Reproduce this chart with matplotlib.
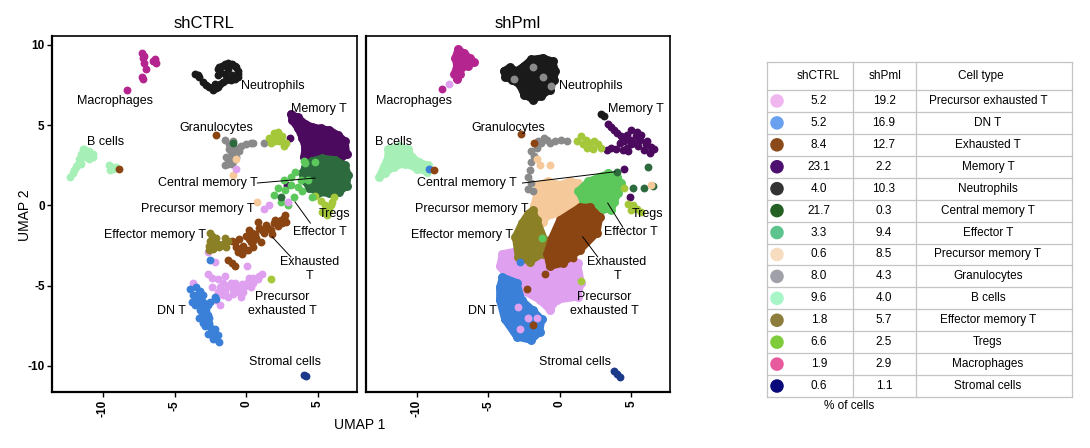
import matplotlib
matplotlib.use("Agg")
import matplotlib.pyplot as plt

plt.rcParams['font.family'] = ['Liberation Sans', 'DejaVu Sans']

# ---- cell types (order used for drawing and for the table) ----
cell_types = ['Precursor exhausted T', 'DN T', 'Exhausted T', 'Memory T', 'Neutrophils',
              'Central memory T', 'Effector T', 'Precursor memory T', 'Granulocytes',
              'B cells', 'Effector memory T', 'Tregs', 'Macrophages', 'Stromal cells']
pct_ctrl = ['5.2', '5.2', '8.4', '23.1', '4.0', '21.7', '3.3', '0.6', '8.0', '9.6', '1.8', '6.6', '1.9', '0.6']
pct_pml = ['19.2', '16.9', '12.7', '2.2', '10.3', '0.3', '9.4', '8.5', '4.3', '4.0', '5.7', '2.5', '2.9', '1.1']

# scatter colours and the (slightly different) table swatch colours
dot_colors = {'Precursor exhausted T': '#e0a0f0', 'DN T': '#3a7fd8', 'Exhausted T': '#8b4513',
              'Memory T': '#4b0a5e', 'Neutrophils': '#1a1a1a', 'Central memory T': '#2d6a3e',
              'Effector T': '#5cc85c', 'Precursor memory T': '#f5c99a', 'Granulocytes': '#8a8a8a',
              'B cells': '#a6f0b8', 'Effector memory T': '#8b8026', 'Tregs': '#a5c83a',
              'Macrophages': '#b5258f', 'Stromal cells': '#1b3a8a'}
table_colors = ['#f0b6f0', '#6aa0f0', '#8b4a1a', '#4d0f70', '#333333', '#245f24', '#5cc48c',
                '#f7dcc0', '#a0a0a8', '#a8f5c8', '#8c7d3c', '#7ecc3c', '#e85a9e', '#0a0a7a']

# ---- shCTRL: single cells (UMAP coordinates) ----
ctrl_macro = [(-7.3, 9.5), (-7.2, 9.2), (-7.1, 8.9), (-6.5, 9.0), (-6.3, 8.9), (-7.0, 8.5),
              (-7.3, 8.0), (-7.2, 7.9), (-8.3, 7.2), (-7.1, 9.3), (-6.4, 9.1)]
ctrl_bcell = [(-11.3, 3.5), (-11.0, 3.4), (-10.8, 3.1), (-11.5, 3.2), (-11.2, 3.0), (-11.6, 2.8),
              (-11.8, 2.5), (-12.0, 2.2), (-12.3, 1.8), (-10.7, 3.0), (-11.0, 2.9), (-11.4, 3.5),
              (-9.6, 2.5), (-9.3, 2.3), (-9.1, 2.4), (-9.5, 2.2), (-11.1, 3.3), (-10.9, 3.2),
              (-11.3, 3.1), (-11.7, 2.9), (-11.5, 2.6), (-11.9, 2.4), (-12.1, 2.0), (-10.7, 3.2),
              (-9.4, 2.4)]
ctrl_neutro = [(-3.6, 8.2), (-3.3, 8.0), (-3.0, 7.7), (-2.6, 7.4), (-2.3, 7.2), (-2.0, 7.4),
               (-1.8, 7.6), (-1.4, 7.8), (-1.1, 7.8), (-0.6, 8.0), (-0.6, 8.4), (-0.8, 8.7),
               (-1.3, 8.9), (-1.7, 8.7), (-2.0, 8.5), (-2.0, 8.1), (-1.5, 8.2), (-1.0, 8.1),
               (-3.4, 8.1), (-2.8, 7.5), (-2.4, 7.3), (-2.1, 7.3), (-1.6, 7.7), (-1.2, 7.9),
               (-0.8, 7.9), (-0.6, 8.2), (-0.7, 8.6), (-1.0, 8.8), (-1.5, 8.8), (-1.9, 8.6),
               (-1.8, 8.3), (-1.3, 8.5), (-2.2, 7.6)]
ctrl_memT_hull = [(3.1, 5.7), (3.6, 5.5), (4.1, 5.1), (4.6, 4.9), (5.2, 4.8), (5.8, 4.7), (6.4, 4.4),
                  (6.9, 4.0), (7.0, 3.2), (6.5, 2.8), (5.5, 2.8), (4.5, 2.9), (4.0, 3.0), (4.1, 3.6),
                  (3.9, 4.2), (3.6, 4.8), (3.2, 5.3)]
ctrl_memT = [(3.07, 4.2), (2.86, 1.28)]
ctrl_cmT_hull = [(4.1, 2.4), (4.6, 2.8), (5.3, 2.95), (6.2, 2.85), (6.9, 2.5), (7.1, 1.9), (7.0, 1.2),
                 (6.5, 0.85), (5.8, 0.75), (5.0, 0.8), (4.4, 1.1), (4.0, 1.6), (3.9, 2.0)]
ctrl_cmT = [(-0.9, 3.9), (2.4, 0.5)]
ctrl_effT = [(4.1, 2.65), (3.4, 2.1), (3.1, 1.8), (3.8, 1.6), (1.9, 0.65), (2.4, 0.2), (2.9, 0.03),
             (3.3, 0.5), (2.7, 0.97), (4.0, 2.8), (4.8, 2.7), (3.6, 1.15), (4.6, 0.5), (3.1, 1.3),
             (2.2, 1.1), (4.3, 1.6), (3.9, 0.9), (2.6, 1.6)]
ctrl_treg = [(1.6, 4.2), (1.9, 4.5), (2.2, 4.6), (2.5, 4.3), (2.8, 3.9), (2.0, 4.0), (2.3, 4.0),
             (2.6, 3.7), (1.7, 3.9), (4.8, 0.6), (5.2, 0.3), (5.5, 0.0), (5.8, -0.3), (6.0, 0.2),
             (5.6, -0.6), (5.3, -0.4), (6.1, 0.5), (1.7, -4.6), (2.1, 4.3), (2.4, 4.1), (5.5, -0.3),
             (5.9, 0.0)]
ctrl_gran = [(-1.5, 4.1), (-1.2, 3.8), (-0.8, 3.6), (-0.4, 3.7), (0.0, 3.8), (0.5, 3.9), (1.2, 3.9),
             (-1.0, 3.2), (-1.3, 2.9), (-1.5, 2.5), (-1.0, 2.6), (-0.7, 3.0), (-0.5, 3.4), (-1.2, 3.5),
             (-1.1, 3.4), (-1.4, 3.0), (-0.9, 2.8), (-1.3, 2.6), (-0.9, 4.0), (0.3, 3.9)]
ctrl_pmem = [(-0.9, 1.9), (0.75, 0.2), (-0.7, 2.9)]
ctrl_pexh = [(-2.65, -4.3), (-2.0, -4.6), (-2.4, -5.1), (-1.8, -5.1), (-1.5, -5.3), (-1.1, -4.8),
             (-0.6, -5.1), (-0.4, -5.7), (0.07, -4.8), (0.5, -4.5), (0.8, -4.6), (1.1, -4.3),
             (0.3, -5.1), (-0.9, -5.5), (-1.8, -6.2), (-1.25, -5.7), (-2.2, -5.9), (-0.2, -5.4),
             (-2.2, -3.5), (0.07, -3.8), (-2.65, -2.9), (-3.7, -4.8), (1.2, -0.2), (1.6, 0.0),
             (-0.7, 2.3), (2.9, 0.2), (-1.5, -4.4), (-0.3, -4.9), (-2.4, -4.5), (-1.6, -4.8),
             (-1.3, -5.0), (-0.8, -4.8), (-0.9, -5.2), (-0.1, -5.0), (0.5, -4.8), (0.9, -4.4),
             (-1.6, -5.6), (-2.0, -5.4), (-0.5, -5.4), (0.2, -4.5)]
ctrl_dnt = [(-3.9, -5.2), (-3.5, -5.1), (-3.2, -5.3), (-3.7, -5.6), (-3.3, -5.8), (-3.0, -6.0),
            (-3.6, -6.2), (-3.2, -6.5), (-2.8, -6.5), (-3.3, -7.0), (-2.9, -7.1), (-2.6, -7.0),
            (-2.9, -7.5), (-2.5, -7.6), (-2.3, -7.9), (-2.0, -8.1), (-1.9, -8.5), (-2.3, -8.3),
            (-2.7, -8.0), (-2.5, -6.0), (-2.2, -5.7), (-3.8, -6.0), (-2.5, -3.4), (-2.1, -5.8),
            (-3.4, -5.5), (-3.0, -5.6), (-3.4, -6.1), (-3.0, -6.3), (-2.7, -6.8), (-3.1, -6.8),
            (-3.0, -7.3), (-2.6, -7.3), (-2.2, -7.7), (-2.5, -8.0), (-2.1, -8.3), (-3.6, -5.9),
            (-2.7, -6.2)]
ctrl_exh = [(-1.0, -2.2), (-0.7, -2.6), (-0.5, -2.1), (-0.2, -2.5), (0.0, -1.9), (0.3, -2.3),
            (0.4, -1.7), (0.7, -2.0), (0.9, -1.4), (1.2, -1.7), (1.4, -1.2), (1.7, -1.5),
            (1.9, -1.1), (2.2, -1.3), (2.4, -0.9), (2.7, -0.6), (2.8, -1.0), (0.1, -2.8),
            (0.5, -2.6), (-0.3, -3.0), (0.8, -1.0), (1.0, -2.3), (-1.3, -3.4), (-1.0, -3.6),
            (-0.8, -3.8), (-2.1, 4.4), (-8.86, 2.27), (-0.8, -2.3), (-0.4, -2.8), (0.2, -2.1),
            (0.6, -1.8), (1.1, -1.5), (1.5, -1.4), (2.0, -0.9), (2.5, -1.1), (0.5, -2.2),
            (-0.6, -2.9), (1.8, -1.8), (2.6, -0.8), (0.2, -1.5), (-0.1, -2.8)]
ctrl_emem = [(-2.4, -1.9), (-2.2, -2.3), (-2.6, -2.5), (-2.3, -2.7), (-1.9, -2.6), (-1.6, -2.4),
             (-1.3, -2.2), (-1.4, -2.6), (-2.1, -2.0), (-2.5, -1.7), (-2.0, -2.4), (-2.5, -2.2),
             (-1.5, -2.0), (-2.6, -2.8)]
ctrl_strom = [(4.0, -10.55), (4.15, -10.65)]

# ---- shPml: dense regions (outlines) and single cells ----
pml_macro_hull = [(-7.1, 9.75), (-6.7, 9.5), (-6.3, 9.2), (-6.0, 8.95), (-6.4, 8.7), (-6.8, 8.6),
                  (-7.0, 8.2), (-7.2, 7.9), (-7.35, 8.2), (-7.2, 8.7), (-7.3, 9.2)]
pml_macro = [(-8.25, 7.25)]
pml_neutro_hull = [(-3.9, 8.4), (-3.5, 8.6), (-3.0, 8.4), (-2.5, 8.7), (-2.0, 9.1), (-1.2, 9.2),
                   (-0.5, 9.0), (-0.3, 8.4), (-0.4, 7.8), (-0.7, 7.2), (-1.3, 6.8), (-1.9, 6.6),
                   (-2.5, 6.9), (-2.8, 7.5), (-3.3, 7.8), (-3.8, 8.0)]
pml_neutro = [(2.9, 5.7), (3.1, 5.55)]
pml_gran = [(-3.2, 7.9), (-1.9, 8.6), (-1.2, 8.0), (-0.6, 7.45), (0.5, 4.0), (0.1, 4.1), (-0.3, 4.0),
            (-0.7, 3.9), (-1.1, 4.2), (-1.5, 4.0), (-1.6, 3.6), (-1.8, 3.1), (-2.0, 2.7), (-2.1, 2.2),
            (-2.2, 1.8), (-2.0, 1.4), (-2.2, 1.0), (-1.9, 0.9), (-1.3, 3.9), (-0.9, 4.05), (-2.0, 3.4)]
pml_memT = [(3.35, 5.1), (4.0, 4.5), (4.7, 4.4), (5.4, 4.6), (5.2, 3.9), (6.1, 4.0), (6.4, 3.65),
            (5.9, 3.45), (4.7, 3.6), (4.2, 3.9), (3.3, 3.45), (5.7, 4.4), (4.4, 3.45), (4.9, 4.1),
            (3.6, 4.9), (5.0, 4.7), (5.5, 3.7), (6.3, 3.3), (4.5, 2.3), (4.9, 0.5), (3.9, 3.5),
            (3.8, 4.7), (4.3, 4.3), (4.5, 4.0), (5.0, 3.8), (5.6, 4.1), (6.0, 3.8), (4.8, 3.4),
            (5.3, 4.3), (3.6, 3.6), (6.6, 3.5)]
pml_cmT = [(4.0, 2.1), (6.15, 2.4), (5.1, 1.1), (5.9, 1.1), (6.5, 1.2)]
pml_treg = [(1.2, 4.0), (1.5, 4.3), (1.8, 4.1), (2.1, 3.9), (2.4, 4.0), (2.7, 3.8), (1.6, 3.8),
            (1.9, 3.6), (2.3, 3.5), (2.9, 3.6), (4.8, 0.1), (5.1, 0.0), (5.4, -0.2), (5.7, -0.4),
            (5.0, -0.3), (4.5, 1.1), (1.5, -4.7)]
pml_pmem_hull = [(-1.5, 1.3), (-0.8, 1.5), (0.0, 1.3), (0.7, 1.5), (1.3, 1.4), (1.6, 1.0), (1.3, 0.3),
                 (0.8, -0.3), (0.2, -0.6), (-0.6, -0.5), (-1.2, -1.0), (-1.6, -0.6), (-1.8, 0.0),
                 (-1.6, 0.7)]
pml_pmem = [(6.4, 1.3), (-1.4, 2.5), (-0.7, 2.5), (-1.6, 2.9)]
pml_effT_hull = [(1.3, 0.9), (2.0, 1.5), (2.8, 1.8), (3.4, 2.0), (4.0, 1.8), (4.3, 1.4), (4.1, 0.8),
                 (3.8, 0.2), (3.6, -0.3), (3.0, -0.2), (2.3, 0.0), (1.6, 0.3)]
pml_effT = [(-1.25, -2.05)]
pml_emem_hull = [(-1.9, -0.3), (-1.6, -0.9), (-1.05, -2.15), (-1.2, -3.0), (-2.1, -3.5), (-2.9, -3.2),
                 (-3.1, -1.95), (-2.65, -1.1), (-2.2, -0.5)]
pml_exh_hull = [(2.1, -0.1), (2.8, -0.7), (2.6, -1.7), (1.4, -2.8), (0.2, -3.6), (-0.7, -3.8),
                (-0.9, -3.0), (-0.55, -2.0), (0.0, -0.9), (0.7, -0.5), (1.4, -0.1)]
pml_exh = [(-2.7, 4.45), (-1.8, 3.9), (-8.8, 2.2), (0.9, -3.3), (-1.05, -4.3), (-2.3, -5.2), (-1.9, -7.45)]
pml_pexh_hull = [(-4.0, -3.0), (-2.8, -2.8), (-0.9, -3.2), (-0.2, -3.6), (0.7, -3.2), (1.25, -3.6),
                 (1.5, -4.8), (1.25, -5.7), (-0.2, -5.9), (-0.7, -6.5), (-1.4, -5.9), (-2.6, -5.3),
                 (-3.5, -4.6), (-4.2, -3.8)]
pml_pexh = [(-7.7, 7.6)]
pml_dnt_hull = [(-4.0, -4.45), (-3.0, -4.8), (-2.65, -5.9), (-1.9, -6.5), (-1.25, -7.1), (-1.4, -7.9),
                (-2.0, -8.4), (-3.0, -8.2), (-3.85, -7.1), (-4.2, -5.9), (-4.2, -5.1)]
pml_dnt = [(-2.8, -3.5), (-9.1, 2.3)]
pml_pexh_top = [(-2.9, -6.3), (-2.2, -7.0), (-2.8, -7.7), (-1.6, -7.0)]
pml_bcell_hull = [(-12.0, 3.5), (-11.2, 3.7), (-10.6, 3.5), (-10.3, 3.0), (-9.8, 2.7), (-9.2, 2.5),
                  (-9.3, 2.1), (-10.0, 2.3), (-10.8, 2.6), (-11.6, 2.4), (-12.2, 2.0), (-12.6, 1.8),
                  (-12.3, 2.4), (-12.0, 3.0)]
pml_strom = [(3.8, -10.3), (4.0, -10.5), (4.2, -10.7)]

# ---- cluster labels (x, y, text) and leader lines ----
ctrl_labels = [(-9.15, 6.5, 'Macrophages', 'center'), (-0.35, 7.45, 'Neutrophils', 'left'),
               (3.1, 6.0, 'Memory T', 'left'), (-2.1, 4.85, 'Granulocytes', 'center'),
               (-9.8, 3.97, 'B cells', 'center'), (-2.65, 1.4, 'Central memory T', 'center'),
               (-3.4, -0.2, 'Precursor memory T', 'center'), (6.15, -0.55, 'Tregs', 'center'),
               (5.15, -1.65, 'Effector T', 'center'), (-6.4, -1.84, 'Effector memory T', 'center'),
               (4.4, -3.95, 'Exhausted\nT', 'center'), (2.5, -6.15, 'Precursor\nexhausted T', 'center'),
               (-5.2, -6.6, 'DN T', 'center'), (2.7, -9.75, 'Stromal cells', 'center')]
ctrl_lines = [((0.77, 4.8), (1.4, 1.71)), ((3.4, 4.47), (0.22, -1.1)), ((1.8, 3.1), (-1.95, -3.2))]
pml_labels = [(-10.2, 6.5, 'Macrophages', 'center'), (-0.05, 7.45, 'Neutrophils', 'left'),
              (3.35, 6.0, 'Memory T', 'left'), (-3.6, 4.85, 'Granulocytes', 'center'),
              (-11.6, 3.97, 'B cells', 'center'), (-6.5, 1.4, 'Central memory T', 'center'),
              (-6.15, -0.2, 'Precursor memory T', 'center'), (6.15, -0.55, 'Tregs', 'center'),
              (5.0, -1.65, 'Effector T', 'center'), (-6.8, -1.84, 'Effector memory T', 'center'),
              (4.0, -3.95, 'Exhausted\nT', 'center'), (3.1, -6.15, 'Precursor\nexhausted T', 'center'),
              (-5.4, -6.6, 'DN T', 'center'), (1.05, -9.75, 'Stromal cells', 'center')]
pml_lines = [((-2.6, 3.85), (1.4, 2.1)), ((3.35, 4.4), (0.15, -1.35)), ((1.6, 2.65), (-1.95, -3.2))]

S = 32


def dots(ax, pts, name):
    ax.scatter([p[0] for p in pts], [p[1] for p in pts], s=S, color=dot_colors[name], lw=0, zorder=3)


def blob(ax, pts, name):
    xs = [p[0] for p in pts]
    ys = [p[1] for p in pts]
    ax.fill(xs, ys, facecolor=dot_colors[name], edgecolor=dot_colors[name], lw=5,
            joinstyle='round', zorder=2)
    ax.scatter(xs, ys, s=S * 1.3, color=dot_colors[name], lw=0, zorder=2)


fig = plt.figure(figsize=(10.9, 4.48), dpi=100)
ax1 = fig.add_axes([52.3 / 1090, 1 - 392.3 / 448, (356.7 - 52.3) / 1090, (392.3 - 36) / 448])
ax2 = fig.add_axes([366 / 1090, 1 - 392.3 / 448, (670 - 366) / 1090, (392.3 - 36) / 448])

# shCTRL
dots(ax1, ctrl_macro, 'Macrophages')
dots(ax1, ctrl_bcell, 'B cells')
dots(ax1, ctrl_neutro, 'Neutrophils')
blob(ax1, ctrl_memT_hull, 'Memory T')
dots(ax1, ctrl_memT, 'Memory T')
dots(ax1, ctrl_gran, 'Granulocytes')
dots(ax1, ctrl_treg, 'Tregs')
dots(ax1, ctrl_effT, 'Effector T')
blob(ax1, ctrl_cmT_hull, 'Central memory T')
dots(ax1, ctrl_cmT, 'Central memory T')
dots(ax1, ctrl_pmem, 'Precursor memory T')
dots(ax1, ctrl_pexh, 'Precursor exhausted T')
dots(ax1, ctrl_dnt, 'DN T')
dots(ax1, ctrl_exh, 'Exhausted T')
dots(ax1, ctrl_emem, 'Effector memory T')
dots(ax1, ctrl_strom, 'Stromal cells')

# shPml
blob(ax2, pml_bcell_hull, 'B cells')
blob(ax2, pml_macro_hull, 'Macrophages')
dots(ax2, pml_macro, 'Macrophages')
blob(ax2, pml_neutro_hull, 'Neutrophils')
dots(ax2, pml_neutro, 'Neutrophils')
dots(ax2, pml_gran, 'Granulocytes')
dots(ax2, pml_memT, 'Memory T')
dots(ax2, pml_treg, 'Tregs')
dots(ax2, pml_cmT, 'Central memory T')
blob(ax2, pml_pmem_hull, 'Precursor memory T')
dots(ax2, pml_pmem, 'Precursor memory T')
blob(ax2, pml_effT_hull, 'Effector T')
blob(ax2, pml_pexh_hull, 'Precursor exhausted T')
dots(ax2, pml_pexh, 'Precursor exhausted T')
blob(ax2, pml_dnt_hull, 'DN T')
dots(ax2, pml_dnt, 'DN T')
dots(ax2, pml_pexh_top, 'Precursor exhausted T')
blob(ax2, pml_emem_hull, 'Effector memory T')
blob(ax2, pml_exh_hull, 'Exhausted T')
dots(ax2, pml_exh, 'Exhausted T')
dots(ax2, pml_effT, 'Effector T')
dots(ax2, pml_strom, 'Stromal cells')

for ax, title, labels, lines in [(ax1, 'shCTRL', ctrl_labels, ctrl_lines),
                                 (ax2, 'shPml', pml_labels, pml_lines)]:
    ax.set_xlim(-13.53, 7.7)
    ax.set_ylim(-11.64, 10.56)
    ax.set_title(title, fontsize=12, pad=6)
    for x, y, t, ha in labels:
        ax.text(x, y, t, fontsize=9, ha=ha, va='center', zorder=5, linespacing=1.25)
    for xs, ys in lines:
        ax.plot(xs, ys, color='black', lw=0.7, zorder=4)
    ax.set_xticks([-10, -5, 0, 5])
    ax.set_xticklabels(['-10', '-5', '0', '5'], rotation=90, fontweight='bold', fontsize=8.5)
    ax.tick_params(length=3.5, width=1, pad=2)
    for side in ['top', 'right', 'left', 'bottom']:
        ax.spines[side].set_linewidth(1.2)
    ax.spines['left'].set_linewidth(1.6)
    ax.spines['bottom'].set_linewidth(1.6)

ax1.set_yticks([-10, -5, 0, 5, 10])
ax1.set_yticklabels(['-10', '-5', '0', '5', '10'], fontweight='bold', fontsize=8.5)
ax2.set_yticks([])

fig.text(360 / 1090, 1 - 425 / 448, 'UMAP 1', ha='center', va='center', fontsize=10)
fig.text(25 / 1090, 1 - 215 / 448, 'UMAP 2', ha='center', va='center', fontsize=10, rotation=90)

# ---- table of percentages ----
axt = fig.add_axes([767 / 1090, 1 - 397 / 448, (1072 - 767) / 1090, (397 - 62) / 448])
axt.set_xlim(0, 305)
axt.set_ylim(335, 0)
axt.axis('off')
head_h = 28
row_h = (335 - head_h) / len(cell_types)
grid = '#c4c4c4'
col_edges = [0, 86, 149, 305]
for xe in col_edges:
    axt.plot([xe, xe], [0, 335], color=grid, lw=0.9, clip_on=False)
axt.plot([0, 305], [0, 0], color=grid, lw=0.9, clip_on=False)
for i in range(len(cell_types) + 1):
    yy = head_h + i * row_h
    axt.plot([0, 305], [yy, yy], color=grid, lw=0.9, clip_on=False)
axt.text(51, head_h / 2, 'shCTRL', ha='center', va='center', fontsize=8.5)
axt.text(118, head_h / 2, 'shPml', ha='center', va='center', fontsize=8.5)
axt.text(214, head_h / 2, 'Cell type', ha='center', va='center', fontsize=8.5)
row_y = [head_h + (i + 0.5) * row_h for i in range(len(cell_types))]
axt.scatter([10] * len(cell_types), row_y, s=95, c=table_colors, lw=0, clip_on=False)
for yy, a, b, name in zip(row_y, pct_ctrl, pct_pml, cell_types):
    axt.text(52, yy, a, ha='center', va='center', fontsize=8.5)
    axt.text(117, yy, b, ha='center', va='center', fontsize=8.5)
    axt.text(221, yy, name, ha='center', va='center', fontsize=8.5)
axt.text(82, 344, '% of cells', ha='center', va='center', fontsize=8.5, clip_on=False)

fig.savefig('out.png', dpi=100)
